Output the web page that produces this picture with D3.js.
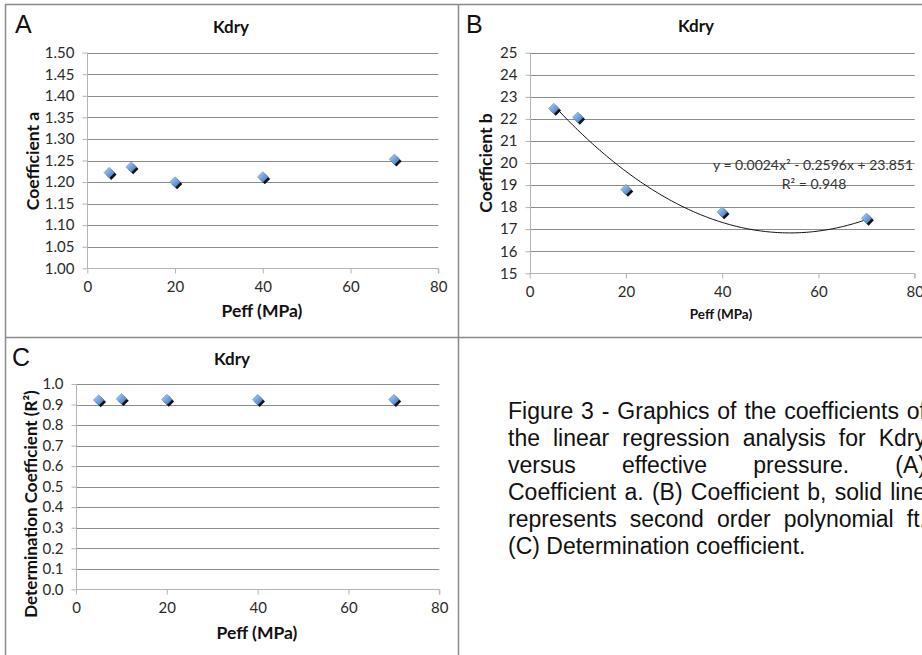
<!DOCTYPE html>
<html>
<head>
<meta charset="utf-8">
<script src="https://cdn.jsdelivr.net/npm/d3@7"></script>
<style>
  html, body { margin: 0; padding: 0; background: #fff; }
  svg { display: block; }
</style>
</head>
<body>
<svg id="fig" width="922" height="655"></svg>
<script>
// ---------------- DATA ----------------
const pressure = [5, 10, 20, 40, 70];                 // Peff (MPa)
const coefA = [1.222, 1.235, 1.200, 1.212, 1.253];    // Coefficient a
const coefB = [22.47, 22.07, 18.80, 17.78, 17.49];    // Coefficient b
const detR2 = [0.922, 0.928, 0.925, 0.924, 0.924];    // Determination coefficient
const fitCoef = [0.0024, -0.2596, 23.851];            // y = c0 x^2 + c1 x + c2 (shown in chart)
const fitRange = [5, 70];
const xTicks = [0, 20, 40, 60, 80];
const yTicksA = [1.00, 1.05, 1.10, 1.15, 1.20, 1.25, 1.30, 1.35, 1.40, 1.45, 1.50];
const yTicksB = [15, 16, 17, 18, 19, 20, 21, 22, 23, 24, 25];
const yTicksC = [0.0, 0.1, 0.2, 0.3, 0.4, 0.5, 0.6, 0.7, 0.8, 0.9, 1.0];
const eqText = "y = 0.0024x² - 0.2596x + 23.851";
const r2Text = "R² = 0.948";
const captionLines = [
  "Figure 3 - Graphics of the coefficients of",
  "the linear regression analysis for Kdry",
  "versus effective pressure. (A)",
  "Coefficient a. (B) Coefficient b, solid line",
  "represents second order polynomial ft.",
  "(C) Determination coefficient."
];

// ---------------- DRAW ----------------
const svg = d3.select("#fig");
const chartFont = "Lato, 'Open Sans', sans-serif";

const defs = svg.append("defs");
const grad = defs.append("linearGradient").attr("id", "mk")
  .attr("x1", "0%").attr("y1", "0%").attr("x2", "100%").attr("y2", "100%");
grad.append("stop").attr("offset", "0%").attr("stop-color", "#b9d3f0");
grad.append("stop").attr("offset", "55%").attr("stop-color", "#6f9fd6");
grad.append("stop").attr("offset", "100%").attr("stop-color", "#3f6fae");

const frame = svg.append("g").attr("stroke", "#8a8a8a").attr("stroke-width", 1.5);
frame.append("line").attr("x1", 5.5).attr("y1", 4).attr("x2", 5.5).attr("y2", 655);
frame.append("line").attr("x1", 5).attr("y1", 4.5).attr("x2", 922).attr("y2", 4.5);
frame.append("line").attr("x1", 5).attr("y1", 337.5).attr("x2", 922).attr("y2", 337.5);
frame.append("line").attr("x1", 458.5).attr("y1", 4).attr("x2", 458.5).attr("y2", 655);

const diamond = d3.symbol().type(d3.symbolDiamond2 || d3.symbolSquare2).size(72);

function panel(cfg) {
  const g = svg.append("g");
  const x = d3.scaleLinear().domain([0, 80]).range([cfg.x0, cfg.x1]);
  const y = d3.scaleLinear().domain(cfg.yDomain).range([cfg.yBot, cfg.yTop]);

  g.append("g").selectAll("line").data(cfg.yTicks.slice(1)).join("line")
    .attr("x1", cfg.x0).attr("x2", cfg.x1)
    .attr("y1", d => Math.round(y(d)) + 0.5).attr("y2", d => Math.round(y(d)) + 0.5)
    .attr("stroke", "#8c8c8c").attr("stroke-width", 1);

  const ya = g.append("g").attr("transform", `translate(${Math.round(cfg.x0) + 0.5},0)`)
    .call(d3.axisLeft(y).tickValues(cfg.yTicks).tickFormat(d3.format(cfg.yFmt)).tickSize(5).tickPadding(8));
  ya.select(".domain").attr("stroke", "#b4b4b4").attr("d", `M0,${y(cfg.yDomain[0])}V${y(cfg.yDomain[1])}`);
  ya.selectAll(".tick line").attr("stroke", "#b4b4b4");
  ya.selectAll(".tick text").attr("font-family", chartFont).attr("font-size", 15).attr("fill", "#2a2a2a");

  const xa = g.append("g").attr("transform", `translate(0,${Math.round(cfg.yBot) + 0.5})`)
    .call(d3.axisBottom(x).tickValues(xTicks).tickSize(5).tickPadding(8));
  xa.select(".domain").attr("stroke", "#b4b4b4").attr("d", `M${cfg.x0},0H${cfg.x1}V5`);
  xa.selectAll(".tick line").attr("stroke", "#b4b4b4");
  xa.selectAll(".tick text").attr("font-family", chartFont).attr("font-size", 15).attr("fill", "#2a2a2a");

  g.append("text").attr("x", cfg.titleX).attr("y", cfg.titleY).attr("text-anchor", "middle")
    .attr("dominant-baseline", "central")
    .attr("font-family", chartFont).attr("font-weight", "bold").attr("font-size", 17)
    .attr("fill", "#111").text("Kdry");
  g.append("text").attr("x", cfg.letterX).attr("y", cfg.letterY)
    .attr("font-family", "'Liberation Sans', Arial, sans-serif").attr("font-size", 25)
    .attr("fill", "#111").text(cfg.letter);
  g.append("text").attr("x", cfg.xtX).attr("y", cfg.xtY).attr("text-anchor", "middle")
    .attr("dominant-baseline", "central")
    .attr("font-family", chartFont).attr("font-weight", "bold").attr("font-size", cfg.xtSize)
    .attr("fill", "#111").text("Peff (MPa)");
  g.append("text").attr("transform", `translate(${cfg.ytX},${cfg.ytY}) rotate(-90)`)
    .attr("text-anchor", "middle").attr("dominant-baseline", "central")
    .attr("font-family", chartFont).attr("font-weight", "bold").attr("font-size", cfg.ytSize)
    .attr("fill", "#111").text(cfg.yTitle);

  const pts = pressure.map((p, i) => [p, cfg.values[i]]);
  const mg = g.append("g");
  mg.selectAll("path.sh").data(pts).join("path").attr("class", "sh")
    .attr("transform", d => `translate(${x(d[0]) + 2},${y(d[1]) + 2})`)
    .attr("d", diamond).attr("fill", "#111");
  mg.selectAll("path.mk").data(pts).join("path").attr("class", "mk")
    .attr("transform", d => `translate(${x(d[0])},${y(d[1])})`)
    .attr("d", diamond).attr("fill", "url(#mk)").attr("stroke", "#5b86bf").attr("stroke-width", 0.5);
  return { g, x, y, mg };
}

panel({
  x0: 87.3, x1: 438.3, yTop: 52.7, yBot: 268.3, yDomain: [1.0, 1.5], yTicks: yTicksA, yFmt: ".2f",
  values: coefA, titleX: 231, titleY: 26, letter: "A", letterX: 15, letterY: 33,
  xtX: 262, xtY: 310, xtSize: 17.5, ytX: 32, ytY: 161, ytSize: 17.5, yTitle: "Coefficient a"
});

const pB = panel({
  x0: 529.7, x1: 914.7, yTop: 52.7, yBot: 273.3, yDomain: [15, 25], yTicks: yTicksB, yFmt: "d",
  values: coefB, titleX: 696, titleY: 25, letter: "B", letterX: 466, letterY: 33,
  xtX: 721, xtY: 314, xtSize: 13.5, ytX: 485, ytY: 163, ytSize: 17.5, yTitle: "Coefficient b"
});

// polynomial trendline for B (from the equation shown on the chart)
const fitX = d3.range(fitRange[0], fitRange[1] + 0.01, 0.5);
const fitLine = d3.line()
  .x(d => pB.x(d))
  .y(d => pB.y(fitCoef[0] * d * d + fitCoef[1] * d + fitCoef[2]));
pB.g.insert("path", () => pB.mg.node()).datum(fitX).attr("d", fitLine)
  .attr("fill", "none").attr("stroke", "#111").attr("stroke-width", 1);
pB.g.append("text").attr("x", 813).attr("y", 164).attr("text-anchor", "middle")
  .attr("dominant-baseline", "central").attr("font-family", chartFont).attr("font-size", 14)
  .attr("fill", "#333").text(eqText);
pB.g.append("text").attr("x", 814).attr("y", 183).attr("text-anchor", "middle")
  .attr("dominant-baseline", "central").attr("font-family", chartFont).attr("font-size", 14)
  .attr("fill", "#333").text(r2Text);

panel({
  x0: 76, x1: 439.3, yTop: 384, yBot: 589.3, yDomain: [0, 1], yTicks: yTicksC, yFmt: ".1f",
  values: detR2, titleX: 232, titleY: 358, letter: "C", letterX: 12, letterY: 366,
  xtX: 257, xtY: 632, xtSize: 17.5, ytX: 30, ytY: 504, ytSize: 17, yTitle: "Determination Coefficient (R²)"
});

// caption (justified)
const capLeft = 508, capRight = 926, capFirst = 419, capStep = 27;
const cap = svg.append("g").attr("font-family", "'Liberation Sans', Arial, sans-serif")
  .attr("font-size", 23).attr("fill", "#111");
captionLines.forEach((line, li) => {
  const words = line.split(" ");
  const yb = capFirst + li * capStep;
  const tmp = cap.append("text").attr("x", 0).attr("y", -100);
  const widths = words.map(w => { tmp.text(w); return tmp.node().getComputedTextLength(); });
  tmp.text("a b");
  const abW = tmp.node().getComputedTextLength();
  tmp.text("ab");
  const spaceW = abW - tmp.node().getComputedTextLength();
  tmp.remove();
  const total = d3.sum(widths);
  const last = li === captionLines.length - 1;
  const gap = last ? spaceW : (capRight - capLeft - total) / (words.length - 1);
  let xx = capLeft;
  words.forEach((w, i) => {
    cap.append("text").attr("x", xx).attr("y", yb).text(w);
    xx += widths[i] + gap;
  });
});
</script>
</body>
</html>
